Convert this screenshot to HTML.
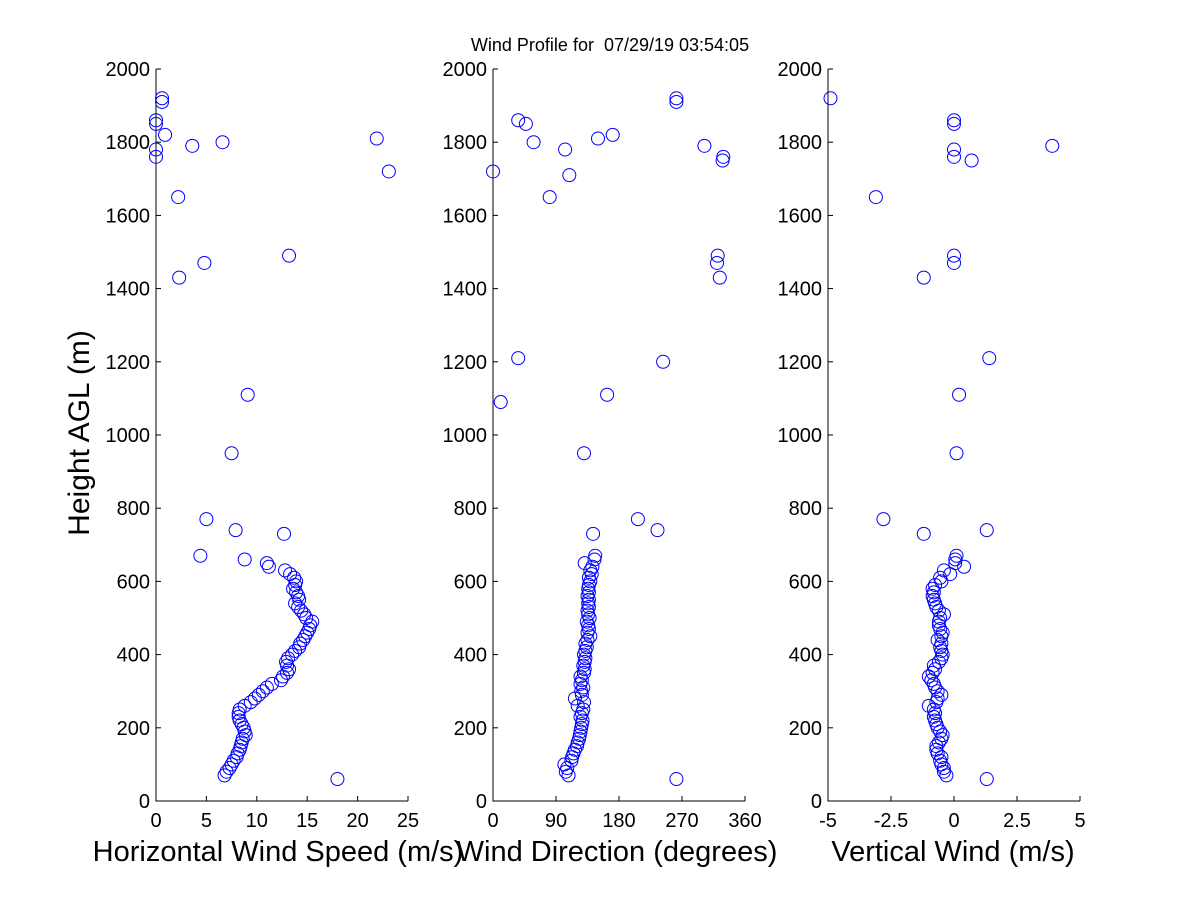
<!DOCTYPE html>
<html><head><meta charset="utf-8"><style>
body{margin:0;background:#fff;}
svg{font-family:"Liberation Sans",sans-serif;}
</style></head><body>
<svg id="chart" width="1200" height="900" xmlns="http://www.w3.org/2000/svg">
<rect width="1200" height="900" fill="#fff"/>
<text x="610" y="51" font-size="18" text-anchor="middle" xml:space="preserve">Wind Profile for  07/29/19 03:54:05</text>
<text transform="translate(89,433) rotate(-90)" font-size="30" text-anchor="middle">Height AGL (m)</text>
</svg>
<script>
const heightTicks=[0,200,400,600,800,1000,1200,1400,1600,1800,2000];
const denseHeights=[70,80,90,100,110,120,130,140,150,160,170,180,190,200,210,220,230,240,250,260,270,280,290,300,310,320,330,340,350,360,370,380,390,400,410,420,430,440,450,460,470,480,490,500,510,520,530,540,550,560,570,580,590,600,610,620,630];
const speedDense=[6.8,7.0,7.3,7.5,7.7,8.0,8.1,8.3,8.4,8.5,8.6,8.9,8.8,8.7,8.5,8.3,8.2,8.2,8.3,8.8,9.4,9.8,10.2,10.6,11.0,11.5,12.4,12.6,13.0,13.2,13.0,12.9,13.1,13.5,13.8,14.2,14.3,14.6,14.8,15.0,15.2,15.3,15.5,14.9,14.7,14.4,14.1,13.8,14.2,14.1,13.9,13.6,13.8,13.9,13.7,13.3,12.8];
const speedSparseH=[60,670,660,650,640,770,740,730,950,1110,1430,1470,1490,1650,1760,1780,1790,1800,1820,1810,1720,1850,1860,1910,1920];
const speedSparse=[18,4.4,8.8,11,11.2,5,7.9,12.7,7.5,9.1,2.3,4.8,13.2,2.2,0,0,3.6,6.6,0.9,21.9,23.1,0,0,0.6,0.6];
const dirDenseH=[70,80,90,100,110,120,130,140,150,160,170,180,190,200,210,220,230,240,250,260,270,280,290,300,310,320,330,340,350,360,370,380,390,400,410,420,430,440,450,460,470,480,490,500,510,520,530,540,550,560,570,580,590,600,610,620,630,640,650,660,670];
const dirDense=[108,104,106,102,112,113,115,117,120,121,123,124,125,126,127,128,125,127,129,121,130,117,127,126,129,125,127,125,130,131,129,131,132,130,132,134,132,135,139,135,137,136,134,138,136,135,137,136,137,135,137,136,137,139,137,141,139,142,131,145,146];
const dirSparseH=[60,770,740,730,950,1090,1110,1210,1200,1430,1470,1490,1650,1720,1710,1800,1780,1810,1820,1790,1750,1760,1860,1850,1910,1920];
const dirSparse=[262,207,235,143,130,11,163,36,243,324,320,321,81,0,109,58,103,150,171,302,328,329,36,47,262,262];
const vertDenseH=dirDenseH;
const vertDense=[-0.3,-0.4,-0.4,-0.5,-0.55,-0.5,-0.65,-0.7,-0.7,-0.6,-0.5,-0.45,-0.55,-0.65,-0.7,-0.75,-0.8,-0.75,-0.8,-1.0,-0.7,-0.65,-0.5,-0.65,-0.75,-0.8,-0.9,-1.0,-0.85,-0.75,-0.8,-0.6,-0.5,-0.45,-0.5,-0.55,-0.5,-0.65,-0.5,-0.45,-0.55,-0.6,-0.6,-0.55,-0.4,-0.6,-0.7,-0.75,-0.8,-0.85,-0.8,-0.85,-0.75,-0.5,-0.55,-0.15,-0.4,0.4,0.05,0.05,0.1];
const vertSparseH=[60,770,730,740,950,1110,1210,1430,1470,1490,1650,1760,1780,1750,1790,1850,1860,1920];
const vertSparse=[1.3,-2.8,-1.2,1.3,0.1,0.2,1.4,-1.2,0,0,-3.1,0,0,0.7,3.9,0,0,-4.9];
const speedTicks=[0,5,10,15,20,25];
const dirTicks=[0,90,180,270,360];
const vertTicks=[-5,-2.5,0,2.5,5];
const vertTickLabels=["-5","-2.5","0","2.5","5"];

const NS="http://www.w3.org/2000/svg";
const svg=document.getElementById('chart');
const yTop=69,yBot=801;
function yScale(h){return yBot-(h/2000)*(yBot-yTop);}
function mk(tag,attrs,parent){const e=document.createElementNS(NS,tag);for(const k in attrs)e.setAttribute(k,attrs[k]);(parent||svg).appendChild(e);return e;}

const panels=[
 {name:'speed',x0:156,x1:408,min:0,max:25,ticks:speedTicks,labels:speedTicks.map(String),title:'Horizontal Wind Speed (m/s)',tx:278,
  series:[[denseHeights,speedDense],[speedSparseH,speedSparse]]},
 {name:'direction',x0:493,x1:745,min:0,max:360,ticks:dirTicks,labels:dirTicks.map(String),title:'Wind Direction (degrees)',tx:617,
  series:[[dirDenseH,dirDense],[dirSparseH,dirSparse]]},
 {name:'vertical',x0:828,x1:1080,min:-5,max:5,ticks:vertTicks,labels:vertTickLabels,title:'Vertical Wind (m/s)',tx:953,
  series:[[vertDenseH,vertDense],[vertSparseH,vertSparse]]}
];
panels.forEach(p=>{
 const g=mk('g',{});
 
 
 const xs=v=>p.x0+(v-p.min)/(p.max-p.min)*(p.x1-p.x0);
 const ax=mk('path',{d:`M${p.x0},${yTop}V${yBot}H${p.x1}`,stroke:'#000',fill:'none','stroke-width':1},g);
 
 
 heightTicks.forEach(h=>{
  const y=yScale(h);
  mk('line',{x1:p.x0,x2:p.x0+5,y1:y,y2:y,stroke:'#000'},g);
  const t=mk('text',{x:p.x0-6,y:y+7,'font-size':20,'text-anchor':'end'},g);
  t.textContent=h;
  
  
 });
 p.ticks.forEach((v,i)=>{
  const x=xs(v);
  mk('line',{x1:x,x2:x,y1:yBot,y2:yBot-5,stroke:'#000'},g);
  const t=mk('text',{x:x,y:yBot+26,'font-size':20,'text-anchor':'middle'},g);
  t.textContent=p.labels[i];
  
  
 });
 const tt=mk('text',{x:p.tx,y:861,'font-size':29,'text-anchor':'middle'},g);
 tt.textContent=p.title;
 
 
 p.series.forEach(([hs,vs])=>{
  hs.forEach((h,i)=>{
   const c=mk('circle',{cx:xs(vs[i]),cy:yScale(h),r:6.5,fill:'none',stroke:'#0000ff','stroke-width':1},g);
   
   
  });
 });
});
</script>
</body></html>
